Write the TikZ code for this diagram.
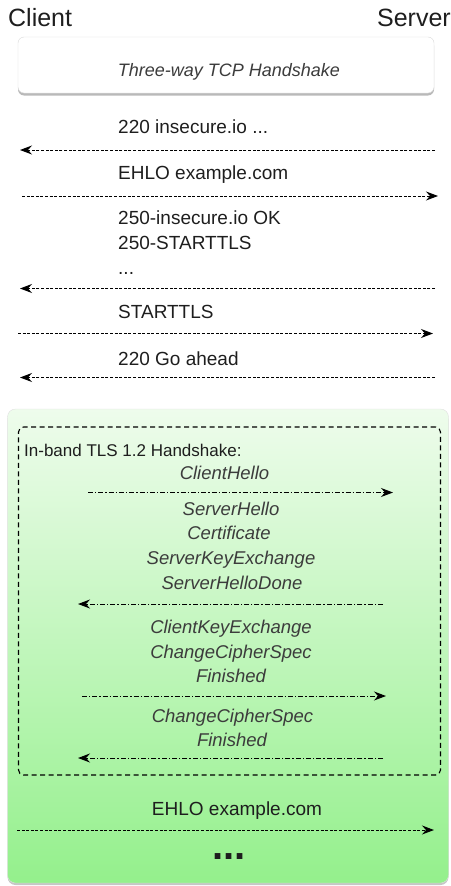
\documentclass[tikz,border=0pt]{standalone}
\usepackage{fontspec}
\setmainfont{Liberation Sans}
\usetikzlibrary{arrows.meta,shadows}
\definecolor{txt}{RGB}{30,30,30}
\definecolor{itxt}{RGB}{60,60,60}
\definecolor{gtop}{RGB}{238,252,236}
\definecolor{gbot}{RGB}{148,240,140}
\tikzset{
  lbl/.style={inner sep=0pt, text=txt, font=\fontsize{19}{23}\selectfont},
  ilbl/.style={inner sep=0pt, anchor=base, text=itxt, font=\fontsize{18.5}{22}\selectfont\itshape},
  tip/.style={-{Stealth[length=12pt,width=9pt,inset=4pt]}},
  msg/.style={line width=1pt, dash pattern=on 3pt off 1.6pt, tip},
  tls/.style={line width=1pt, dash pattern=on 5pt off 2pt on 1.3pt off 2pt, tip},
}
\begin{document}
\begin{tikzpicture}[x=1pt,y=-1pt]
\useasboundingbox (0,0) rectangle (450,886);
% participants
\node[lbl, anchor=base west, font=\fontsize{25}{30}\selectfont] (client) at (8,26) {Client};
\node[lbl, anchor=base east, font=\fontsize{25}{30}\selectfont] (server) at (451,26) {Server};
% TCP handshake box
\node[draw=black!15, fill=white, rounded corners=6pt, minimum width=416pt, minimum height=56pt,
      drop shadow={opacity=0.55, shadow xshift=0pt, shadow yshift=-2.5pt}] (tcp) at (226,65) {};
\node[inner sep=0pt, anchor=base, text=itxt, font=\fontsize{18}{22}\selectfont\itshape] (tcpt) at (229,76) {Three-way TCP Handshake};
% plain SMTP exchange
\node[lbl, anchor=base west] (m1) at (118,133.5) {220 insecure.io ...};
\coordinate (a1s) at (435,150); \coordinate (a1e) at (20,150);
\draw[msg] (a1s) -- (a1e);
\node[lbl, anchor=base west] (m2) at (118,179.5) {EHLO example.com};
\coordinate (a2s) at (22,196); \coordinate (a2e) at (438,196);
\draw[msg] (a2s) -- (a2e);
\node[lbl, anchor=base west] (m3a) at (118,224) {250-insecure.io OK};
\node[lbl, anchor=base west] (m3b) at (118,249) {250-STARTTLS};
\node[lbl, anchor=base west] (m3c) at (118,274) {...};
\coordinate (a3s) at (435,288.5); \coordinate (a3e) at (20,288.5);
\draw[msg] (a3s) -- (a3e);
\node[lbl, anchor=base west] (m4) at (118,318) {STARTTLS};
\coordinate (a4s) at (18,333.5); \coordinate (a4e) at (433,333.5);
\draw[msg] (a4s) -- (a4e);
\node[lbl, anchor=base west] (m5) at (118,365) {220 Go ahead};
\coordinate (a5s) at (435,377.5); \coordinate (a5e) at (20,377.5);
\draw[msg] (a5s) -- (a5e);
% green TLS area
\node[draw=black!12, rounded corners=8pt, minimum width=441pt, minimum height=474pt,
      top color=gtop, bottom color=gbot,
      drop shadow={opacity=0.45, shadow xshift=0pt, shadow yshift=-2pt}] (green) at (228,646) {};
\node[draw=black, line width=1.1pt, dash pattern=on 5pt off 3.5pt, rounded corners=5pt,
      minimum width=422pt, minimum height=348pt] (dash) at (229.5,601) {};
\node[lbl, anchor=base west, font=\fontsize{17}{20}\selectfont] (inband) at (24,456) {In-band TLS 1.2 Handshake:};
\node[ilbl] (t1) at (224.5,479) {ClientHello};
\coordinate (b1s) at (88,492.5); \coordinate (b1e) at (393,492.5);
\draw[tls] (b1s) -- (b1e);
\node[ilbl] (t2a) at (231,515) {ServerHello};
\node[ilbl] (t2b) at (229,539.5) {Certificate};
\node[ilbl] (t2c) at (231,564.5) {ServerKeyExchange};
\node[ilbl] (t2d) at (232,589.5) {ServerHelloDone};
\coordinate (b2s) at (383,604); \coordinate (b2e) at (78,604);
\draw[tls] (b2s) -- (b2e);
\node[ilbl] (t3a) at (231,633) {ClientKeyExchange};
\node[ilbl] (t3b) at (231,658) {ChangeCipherSpec};
\node[ilbl] (t3c) at (231,682) {Finished};
\coordinate (b3s) at (82,696); \coordinate (b3e) at (386,696);
\draw[tls] (b3s) -- (b3e);
\node[ilbl] (t4a) at (232.5,722) {ChangeCipherSpec};
\node[ilbl] (t4b) at (232,746) {Finished};
\coordinate (b4s) at (383,758); \coordinate (b4e) at (78,758);
\draw[tls] (b4s) -- (b4e);
% after TLS
\node[lbl, anchor=base] (e2) at (237,815) {EHLO example.com};
\coordinate (c1s) at (17,830); \coordinate (c1e) at (434,830);
\draw[msg] (c1s) -- (c1e);
\node[inner sep=0pt, anchor=base, text=txt, font=\fontsize{40}{44}\selectfont\bfseries] (dots) at (229,859) {...};
\end{tikzpicture}
\end{document}
